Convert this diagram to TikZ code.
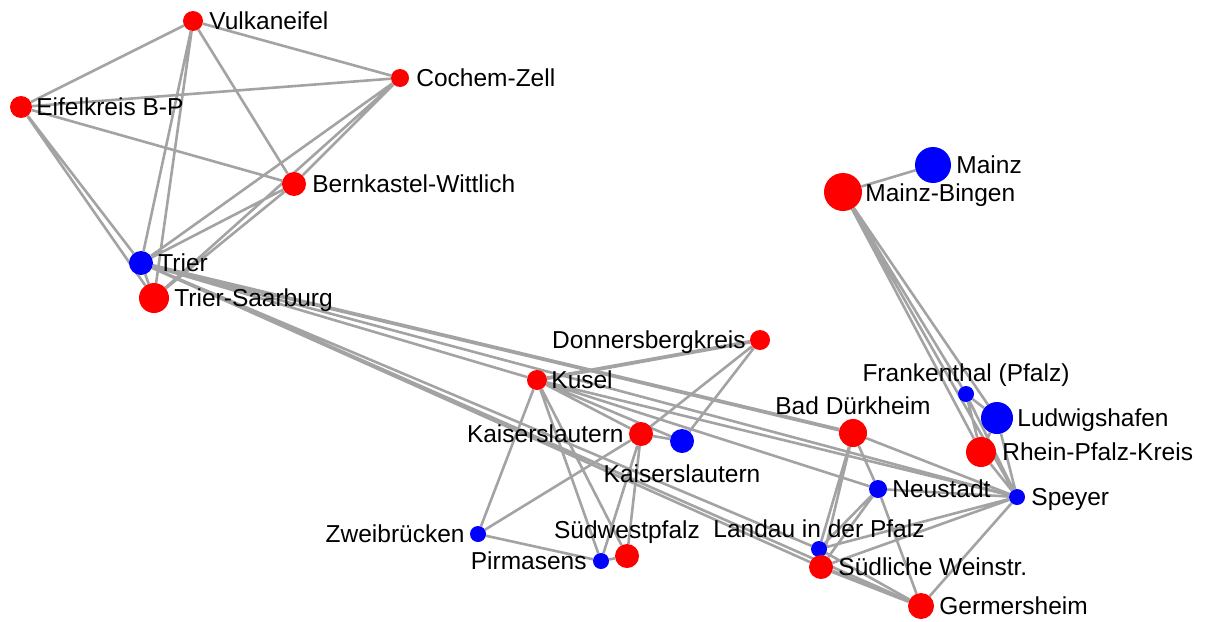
\documentclass[tikz,border=0pt]{standalone}
\usepackage{fontspec}
\setmainfont{Liberation Sans}
\usetikzlibrary{positioning,backgrounds}
\definecolor{kantengrau}{HTML}{A3A3A3}

\begin{document}
\begin{tikzpicture}[
  x=1pt, y=-1pt,
  line cap=round,
  kreis/.style={circle, fill=red, inner sep=0pt, minimum size=#1},
  stadt/.style={circle, fill=blue, inner sep=0pt, minimum size=#1},
  lbl/.style={inner sep=0pt, text height=17.5pt, text depth=0pt,
    font=\fontsize{24.5}{29}\selectfont},
  kante/.style={draw=kantengrau, line width=2.6pt},
  dick/.style={kante, line width=3.8pt}
]
  \useasboundingbox (0,0) rectangle (1206,621);

  % Landkreise rot, kreisfreie Staedte blau
  \node[kreis=20pt] (vulk) at (193,21) {};
  \node[kreis=18pt] (cochem) at (400,78) {};
  \node[kreis=22pt] (eifel) at (21,107) {};
  \node[kreis=24pt] (bernk) at (294,184) {};
  \node[stadt=24pt] (trier) at (141,263) {};
  \node[kreis=30pt] (trsaar) at (154,298) {};
  \node[stadt=36pt] (mainz) at (933,165) {};
  \node[kreis=38pt] (mbingen) at (843,192) {};
  \node[kreis=20pt] (donn) at (760,340) {};
  \node[kreis=20pt] (kusel) at (537,380) {};
  \node[kreis=24pt] (klkreis) at (641,434) {};
  \node[stadt=24pt] (klstadt) at (682,441) {};
  \node[kreis=28pt] (badd) at (853,433) {};
  \node[stadt=16pt] (frank) at (966,394) {};
  \node[stadt=32pt] (ludw) at (997,418) {};
  \node[kreis=30pt] (rpk) at (981,452) {};
  \node[stadt=18pt] (neust) at (878,489) {};
  \node[stadt=16pt] (speyer) at (1017,497) {};
  \node[stadt=16pt] (zweib) at (478,534) {};
  \node[stadt=16pt] (pirm) at (601,561) {};
  \node[kreis=24pt] (suedw) at (627,556) {};
  \node[stadt=16pt] (landau) at (819,549) {};
  \node[kreis=24pt] (suew) at (821,567) {};
  \node[kreis=26pt] (germ) at (921,606) {};

  % Beschriftungen
  \node[lbl, right=6pt of vulk] (vulk-t) {Vulkaneifel};
  \node[lbl, right=7pt of cochem] (cochem-t) {Cochem-Zell};
  \node[lbl, right=4pt of eifel] (eifel-t) {Eifelkreis B-P};
  \node[lbl, right=6pt of bernk] (bernk-t) {Bernkastel-Wittlich};
  \node[lbl, right=5pt of trier] (trier-t) {Trier};
  \node[lbl, right=5pt of trsaar] (trsaar-t) {Trier-Saarburg};
  \node[lbl, right=5pt of mainz] (mainz-t) {Mainz};
  \node[lbl, right=3pt of mbingen, yshift=-1pt] (mbingen-t) {Mainz-Bingen};
  \node[lbl, left=4pt of donn] (donn-t) {Donnersbergkreis};
  \node[lbl, right=4pt of kusel] (kusel-t) {Kusel};
  \node[lbl, left=5pt of klkreis] (klkreis-t) {Kaiserslautern};
  \node[lbl, below=12pt of klstadt] (klstadt-t) {Kaiserslautern};
  \node[lbl, above=4pt of badd] (badd-t) {Bad Dürkheim};
  \node[lbl, above=4pt of frank] (frank-t) {Frankenthal (Pfalz)};
  \node[lbl, right=4pt of ludw] (ludw-t) {Ludwigshafen};
  \node[lbl, right=6pt of rpk] (rpk-t) {Rhein-Pfalz-Kreis};
  \node[lbl, right=5pt of neust] (neust-t) {Neustadt};
  \node[lbl, right=6pt of speyer] (speyer-t) {Speyer};
  \node[lbl, left=5pt of zweib] (zweib-t) {Zweibrücken};
  \node[lbl, left=6pt of pirm] (pirm-t) {Pirmasens};
  \node[lbl, above=5pt of suedw] (suedw-t) {Südwestpfalz};
  \node[lbl, above=3pt of landau] (landau-t) {Landau in der Pfalz};
  \node[lbl, right=5pt of suew] (suew-t) {Südliche Weinstr.};
  \node[lbl, right=5pt of germ] (germ-t) {Germersheim};

  \begin{scope}[on background layer]
    % Eifel und Mosel
    \draw[kante] (vulk) -- (eifel) (vulk) -- (cochem) (vulk) -- (bernk)
      (vulk) -- (trier) (vulk) -- (trsaar)
      (cochem) -- (eifel) (cochem) -- (bernk) (cochem) -- (trier) (cochem) -- (trsaar)
      (eifel) -- (bernk) (eifel) -- (trier) (eifel) -- (trsaar)
      (bernk) -- (trier) (bernk) -- (trsaar) (trier) -- (trsaar);

    % von Trier nach Osten
    \draw[dick] (trier) -- (badd);
    \draw[kante] (trier) -- (kusel) (trier) -- (speyer)
      (trier) -- (suew) (trier) -- (germ) (trier) -- (landau);

    % Westpfalz
    \draw[dick] (kusel) -- (donn);
    \draw[kante] (kusel) -- (klkreis) (kusel) -- (klstadt) (kusel) -- (zweib)
      (kusel) -- (pirm) (kusel) -- (suedw) (kusel) -- (speyer) (kusel) -- (neust)
      (donn) -- (klkreis) (donn) -- (klstadt) (klkreis) -- (klstadt)
      (klkreis) -- (zweib) (klkreis) -- (pirm) (klkreis) -- (suedw)
      (zweib) -- (pirm) (pirm) -- (suedw);

    % Rheinhessen und Vorderpfalz
    \draw[kante] (mbingen) -- (mainz) (mbingen) -- (frank) (mbingen) -- (ludw)
      (mbingen) -- (rpk) (mbingen) -- (speyer)
      (frank) -- (ludw) (frank) -- (rpk) (frank) -- (speyer)
      (ludw) -- (rpk) (ludw) -- (speyer) (rpk) -- (speyer)
      (badd) -- (speyer) (badd) -- (neust) (badd) -- (landau) (badd) -- (suew)
      (neust) -- (speyer) (neust) -- (landau) (neust) -- (suew) (neust) -- (germ)
      (speyer) -- (landau) (speyer) -- (suew) (speyer) -- (germ)
      (landau) -- (suew) (landau) -- (germ);
    \draw[dick] (suew) -- (germ);
  \end{scope}
\end{tikzpicture}
\end{document}
